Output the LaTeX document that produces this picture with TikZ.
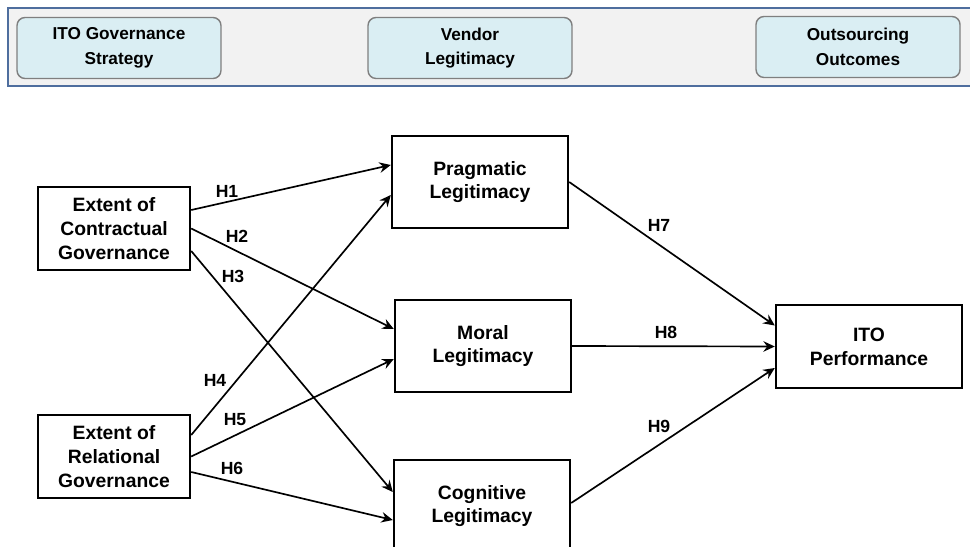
\documentclass[tikz,border=0pt]{standalone}
\usepackage{fontspec}
\setmainfont{Liberation Sans}
\usepackage{xcolor}
\usetikzlibrary{arrows.meta}
\definecolor{bandfill}{HTML}{F2F2F2}
\definecolor{bandline}{HTML}{4F6E9E}
\definecolor{tagfill}{HTML}{DAEEF3}
\definecolor{tagline}{HTML}{7F7F7F}
\newcommand{\boxLine}{1.4pt}
\newcommand{\arrLine}{0.95pt}
\tikzset{
	tag/.style={draw=tagline, fill=tagfill, line width=0.8pt, rounded corners=0.16cm,
		minimum width=4.08cm, minimum height=1.22cm, align=center, inner sep=0,
		font=\bfseries\fontsize{9.8}{14}\selectfont},
	construct/.style={draw, line width=\boxLine, fill=white, align=center, inner sep=0,
		font=\bfseries\fontsize{11}{13.6}\selectfont},
	small/.style={construct, minimum width=3.04cm, minimum height=1.66cm},
	wide/.style={construct, minimum width=3.52cm, minimum height=1.84cm},
	hyp/.style={line width=\arrLine, -{Stealth[length=6.5pt,width=6pt,inset=2.2pt]}},
	hlabel/.style={font=\bfseries\fontsize{10}{12}\selectfont, inner sep=0}
}

\begin{document}
\begin{tikzpicture}[x=0.02cm, y=-0.02cm]
	\useasboundingbox (0,0) rectangle (970,547);
	\fill[white] (0,0) rectangle (970,547);
	\draw[bandline, line width=0.8pt, fill=bandfill] (8,8) rectangle (980,86);
	\node[tag] (t1) at (119,48) {ITO Governance\\Strategy};
	\node[tag] (t2) at (470,48) {Vendor\\Legitimacy};
	\node[tag] (t3) at (858,47) {Outsourcing\\Outcomes};

	\node[small] (cg) at (114,228.5) {Extent of\\Contractual\\Governance};
	\node[small] (rg) at (114,456.5) {Extent of\\Relational\\Governance};
	\node[wide] (pl) at (480,182) {Pragmatic\\Legitimacy};
	\node[wide] (ml) at (483,346) {Moral\\Legitimacy};
	\node[wide] (kl) at (482,506) {Cognitive\\Legitimacy};
	\node[construct, minimum width=3.72cm, minimum height=1.66cm] (ip) at (869,346.5) {ITO\\Performance};

	\draw[hyp] ([yshift=0.37cm]cg.east) -- ([yshift=0.34cm]pl.west);
	\draw[hyp] (cg.east) -- ([yshift=0.34cm]ml.west);
	\draw[hyp] ([yshift=-0.45cm]cg.east) -- ([yshift=0.28cm]kl.west);
	\draw[hyp] ([yshift=0.43cm]rg.east) -- ([yshift=-0.26cm]pl.west);
	\draw[hyp] (rg.east) -- ([yshift=-0.26cm]ml.west);
	\draw[hyp] ([yshift=-0.31cm]rg.east) -- ([yshift=-0.28cm]kl.west);
	\draw[hyp] (pl.east) -- ([yshift=0.42cm]ip.west);
	\draw[hyp] (ml.east) -- (ip.west);
	\draw[hyp] ([yshift=0.06cm]kl.east) -- ([yshift=-0.43cm]ip.west);

	\foreach \n/\x/\y in {1/227/191, 2/237/236, 3/233/276, 4/215/380, 5/235/420, 6/232/468, 7/659/225, 8/666/332, 9/659/426}
		\node[hlabel] (h\n) at (\x,\y) {H\n};
\end{tikzpicture}
\end{document}
